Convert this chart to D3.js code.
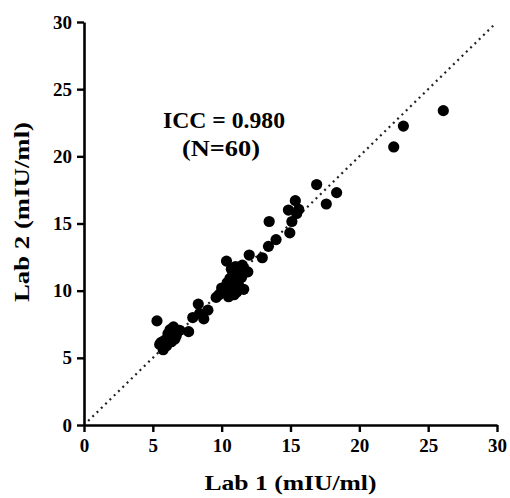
<!DOCTYPE html>
<html lang="en">
<head>
    <meta charset="UTF-8">
    <script src="https://cdn.jsdelivr.net/npm/d3@7"></script>
    <title>ICC scatter</title>
    <style>
        body { margin: 0; background: white; }
        text { font-family: "Liberation Serif", "DejaVu Serif", serif; font-weight: bold; fill: black; }
    </style>
</head>
<body>
    <div id="chart"></div>
    <script>
        // Lab 1 vs Lab 2 values (mIU/ml)
        const lab1 = [5.3, 5.5, 5.75, 5.85, 6.1, 6.35, 6.5, 6.6, 6.95, 6.7, 7.6, 6.0,
            7.9, 8.3, 8.7, 9.0, 8.4,
            9.6, 9.8, 10.0, 10.2, 10.35, 10.5, 10.6, 10.6, 10.85, 11.0, 11.2, 11.45, 11.6, 11.7, 11.9,
            10.8, 11.1, 10.4, 11.3, 10.9, 12.0, 11.5,
            12.95, 13.4, 13.45, 13.95, 14.95, 14.85, 15.1, 15.35, 15.6, 15.45,
            16.9, 17.6, 18.35, 22.5, 23.2, 26.1,
            6.25, 5.6, 10.1, 11.0, 10.7];
        const lab2 = [7.75, 6.0, 5.6, 6.3, 6.8, 6.2, 7.3, 6.4, 7.05, 6.65, 6.95, 5.9,
            8.0, 9.0, 7.9, 8.55, 8.3,
            9.5, 9.7, 10.2, 9.9, 12.2, 9.55, 10.9, 10.2, 11.3, 11.8, 10.55, 11.0, 10.1, 11.5, 11.4,
            10.4, 9.9, 10.6, 11.2, 9.7, 12.65, 11.9,
            12.45, 13.3, 15.15, 13.8, 14.3, 16.0, 15.15, 16.7, 16.05, 15.75,
            17.9, 16.45, 17.3, 20.7, 22.25, 23.4,
            7.1, 6.15, 10.0, 10.9, 11.6];
        const ticks = [0, 5, 10, 15, 20, 25, 30];
        const identity = [0.3, 29.8];
        const iccLabel = "ICC = 0.980";
        const nLabel = "(N=60)";

        const width = 510, height = 498;
        const margin = { left: 84, right: 13, top: 22, bottom: 73 };

        const svg = d3.select("#chart").append("svg")
            .attr("width", width)
            .attr("height", height);

        const x = d3.scaleLinear().domain([0, 30]).range([margin.left, width - margin.right]);
        const y = d3.scaleLinear().domain([0, 30]).range([height - margin.bottom, margin.top]);

        // identity line
        svg.append("line")
            .attr("x1", x(identity[0])).attr("y1", y(identity[0]))
            .attr("x2", x(identity[1])).attr("y2", y(identity[1]))
            .attr("stroke", "#222")
            .attr("stroke-width", 2.2)
            .attr("stroke-dasharray", "2,4");

        // points
        svg.selectAll("circle")
            .data(lab1.map((v, i) => [v, lab2[i]]))
            .enter()
            .append("circle")
            .attr("cx", d => x(d[0]))
            .attr("cy", d => y(d[1]))
            .attr("r", 5.6)
            .attr("fill", "black");

        // axes
        const xAxis = svg.append("g")
            .attr("transform", `translate(0,${y(0)})`)
            .call(d3.axisBottom(x).tickValues(ticks).tickSize(7).tickSizeOuter(0).tickPadding(7));
        const yAxis = svg.append("g")
            .attr("transform", `translate(${x(0)},0)`)
            .call(d3.axisLeft(y).tickValues(ticks).tickSize(7).tickSizeOuter(0).tickPadding(5));

        [xAxis, yAxis].forEach(g => {
            g.select(".domain").attr("stroke", "black").attr("stroke-width", 2.6);
            g.selectAll(".tick line").attr("stroke", "black").attr("stroke-width", 2.4);
            g.selectAll(".tick text")
                .style("font-family", '"Liberation Serif", serif')
                .style("font-weight", "bold")
                .style("font-size", "19px")
                .attr("fill", "black");
        });

        // axis titles (the original type is a little wider than ours)
        svg.append("text")
            .attr("x", (x(0) + x(30)) / 2)
            .attr("y", 490)
            .attr("text-anchor", "middle")
            .attr("textLength", 172)
            .attr("lengthAdjust", "spacingAndGlyphs")
            .style("font-size", "22px")
            .text("Lab 1 (mIU/ml)");

        svg.append("text")
            .attr("transform", `translate(29,212) rotate(-90)`)
            .attr("text-anchor", "middle")
            .attr("textLength", 180)
            .attr("lengthAdjust", "spacingAndGlyphs")
            .style("font-size", "22px")
            .text("Lab 2 (mIU/ml)");

        // annotation
        svg.append("text")
            .attr("x", 224).attr("y", 128)
            .attr("text-anchor", "middle")
            .attr("textLength", 122)
            .attr("lengthAdjust", "spacingAndGlyphs")
            .style("font-size", "23px")
            .text(iccLabel);
        svg.append("text")
            .attr("x", 221).attr("y", 156)
            .attr("text-anchor", "middle")
            .attr("textLength", 78)
            .attr("lengthAdjust", "spacingAndGlyphs")
            .style("font-size", "23px")
            .text(nLabel);
    </script>
</body>
</html>
